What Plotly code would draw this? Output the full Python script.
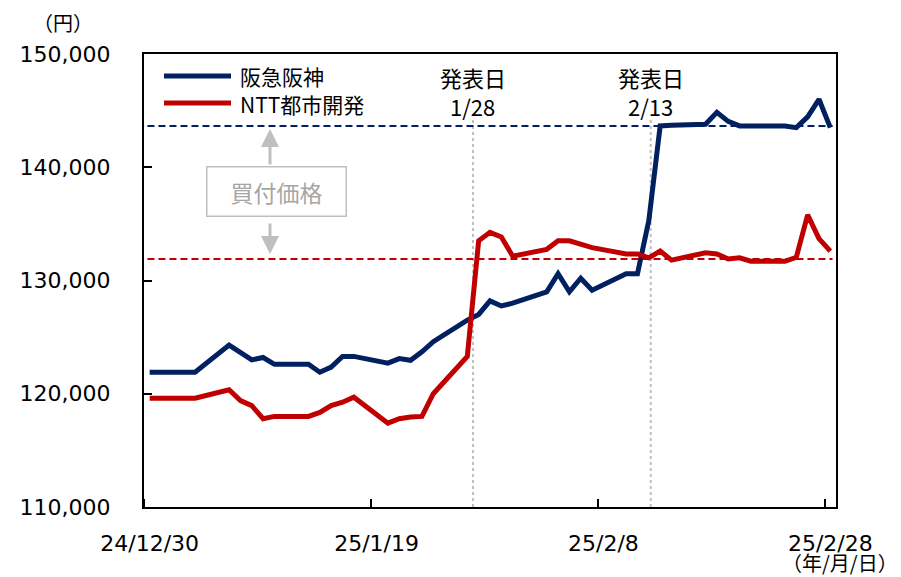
import plotly.graph_objects as go
import pandas as pd

# ---- data ----
dates = [
    "2024-12-30", "2024-12-31", "2025-01-01", "2025-01-02", "2025-01-03",
    "2025-01-06", "2025-01-07", "2025-01-08", "2025-01-09", "2025-01-10",
    "2025-01-13", "2025-01-14", "2025-01-15", "2025-01-16", "2025-01-17",
    "2025-01-20", "2025-01-21", "2025-01-22", "2025-01-23", "2025-01-24",
    "2025-01-27", "2025-01-28", "2025-01-29", "2025-01-30", "2025-01-31",
    "2025-02-03", "2025-02-04", "2025-02-05", "2025-02-06", "2025-02-07",
    "2025-02-10", "2025-02-11", "2025-02-12", "2025-02-13", "2025-02-14",
    "2025-02-17", "2025-02-18", "2025-02-19", "2025-02-20", "2025-02-21",
    "2025-02-24", "2025-02-25", "2025-02-26", "2025-02-27", "2025-02-28",
]
hankyu = [
    121900, 121900, 121900, 121900, 121900,
    124300, 123650, 123000, 123200, 122600,
    122600, 121900, 122350, 123300, 123300,
    122700, 123100, 122950, 123700, 124600,
    126500, 127000, 128200, 127750, 128000,
    129000, 130600, 129000, 130200, 129150,
    130600, 130600, 135300, 143650, 143700,
    143800, 144850, 144050, 143650, 143650,
    143650, 143500, 144450, 146000, 143500,
]
ntt = [
    119600, 119600, 119600, 119600, 119600,
    120350, 119400, 118950, 117800, 118000,
    118000, 118350, 118950, 119250, 119700,
    117400, 117800, 117950, 118000, 120000,
    123300, 133500, 134250, 133850, 132150,
    132750, 133500, 133500, 133200, 132900,
    132350, 132350, 132000, 132600, 131800,
    132450, 132350, 131900, 132000, 131700,
    131700, 132050, 135800, 133700, 132600,
]
series_names = ["阪急阪神", "NTT都市開発"]
tob_hankyu = 143650
tob_ntt = 131900
announce_x = ["2025-01-28", "2025-02-12 16:00"]
announce_title = "発表日"
announce_labels = ["1/28", "2/13"]
tick_dates = ["2024-12-30", "2025-01-19", "2025-02-08", "2025-02-28"]
tick_labels = ["24/12/30", "25/1/19", "25/2/8", "25/2/28"]
y_ticks = [110000, 120000, 130000, 140000, 150000]

# ---- styling ----
BLUE = "#002060"
RED = "#C00000"
GRAY = "#BFBFBF"
FONT = "Verdana, 'DejaVu Sans', 'Noto Sans CJK JP', sans-serif"
JFONT = "'Noto Sans CJK JP', 'DejaVu Sans', sans-serif"

half = pd.Timedelta(hours=12)
x = pd.to_datetime(dates) + half

fig = go.Figure()
fig.add_trace(go.Scatter(x=x, y=hankyu, mode="lines", name=series_names[0],
                         line=dict(color=BLUE, width=5), showlegend=False))
fig.add_trace(go.Scatter(x=x, y=ntt, mode="lines", name=series_names[1],
                         line=dict(color=RED, width=5), showlegend=False))

# plot area in window pixels: left 144, right 836, top 54, bottom 507
# (the page body adds an 8px offset, compensated in the margins)
OFF = 8
L, R, T, B = 144, 836, 54, 507
def px(X):
    return (X - L) / (R - L)
def py(Y):
    return (B - Y) / (B - T)

shapes = []
# tender offer dashed lines
shapes.append(dict(type="line", xref="paper", yref="y", x0=0.005, x1=0.995,
                   y0=tob_hankyu, y1=tob_hankyu, line=dict(color=BLUE, width=2, dash="7px,4px")))
shapes.append(dict(type="line", xref="paper", yref="y", x0=0.005, x1=0.995,
                   y0=tob_ntt, y1=tob_ntt, line=dict(color=RED, width=2, dash="7px,4px")))
# announcement dotted lines
for d in announce_x:
    shapes.append(dict(type="line", xref="x", yref="paper", x0=d, x1=d,
                       y0=0, y1=py(118), line=dict(color=GRAY, width=2, dash="dot"), layer="below"))
# legend lines
shapes.append(dict(type="line", xref="paper", yref="paper", x0=px(164), x1=px(231),
                   y0=py(76), y1=py(76), line=dict(color=BLUE, width=5)))
shapes.append(dict(type="line", xref="paper", yref="paper", x0=px(164), x1=px(231),
                   y0=py(103), y1=py(103), line=dict(color=RED, width=5)))

annotations = []
annotations.append(dict(xref="paper", yref="paper", x=px(238), y=py(76), text=series_names[0],
                        showarrow=False, xanchor="left", yanchor="middle",
                        font=dict(family=JFONT, size=21, color="#000000")))
annotations.append(dict(xref="paper", yref="paper", x=px(238), y=py(104), text=series_names[1],
                        showarrow=False, xanchor="left", yanchor="middle",
                        font=dict(family=JFONT, size=21, color="#000000")))
for d, t in zip(announce_x, announce_labels):
    annotations.append(dict(xref="x", yref="paper", x=d, y=py(77), text=announce_title,
                            showarrow=False, xanchor="center", yanchor="middle",
                            font=dict(family=JFONT, size=22, color="#000000")))
    annotations.append(dict(xref="x", yref="paper", x=d, y=py(106), text=t,
                            showarrow=False, xanchor="center", yanchor="middle",
                            font=dict(family=JFONT, size=22, color="#000000")))
# tender price box and arrows
annotations.append(dict(xref="paper", yref="paper", x=px(276), y=py(191), text="買付価格",
                        showarrow=False, xanchor="center", yanchor="middle",
                        width=136, height=46, bordercolor=GRAY, borderwidth=1.5, bgcolor="white",
                        font=dict(family=JFONT, size=23, color="#A6A6A6")))
annotations.append(dict(xref="paper", yref="y", x=px(270), y=tob_hankyu, ax=0, ay=40,
                        text="", showarrow=True, arrowhead=2, arrowsize=1.2, arrowwidth=3,
                        arrowcolor=GRAY, standoff=3))
annotations.append(dict(xref="paper", yref="y", x=px(270), y=tob_ntt, ax=0, ay=-37,
                        text="", showarrow=True, arrowhead=2, arrowsize=1.2, arrowwidth=3,
                        arrowcolor=GRAY, standoff=5))
# unit labels
annotations.append(dict(xref="paper", yref="paper", x=px(63), y=py(22), text="（円）",
                        showarrow=False, xanchor="center", yanchor="middle",
                        font=dict(family=JFONT, size=20, color="#000000")))
annotations.append(dict(xref="paper", yref="paper", x=px(840), y=py(562), text="（年/月/日）",
                        showarrow=False, xanchor="center", yanchor="middle",
                        font=dict(family=JFONT, size=20, color="#000000")))

fig.update_layout(
    width=901 - OFF, height=577 - OFF,
    margin=dict(l=L - OFF, r=901 - R, t=T - OFF, b=577 - B),
    paper_bgcolor="white", plot_bgcolor="white",
    font=dict(family=FONT, size=22, color="#000000"),
    shapes=shapes, annotations=annotations,
    showlegend=False,
)
fig.update_xaxes(
    type="date", range=["2024-12-30", "2025-03-01"], automargin=False,
    tickmode="array", tickvals=pd.to_datetime(tick_dates) + half, ticktext=tick_labels,
    ticks="", showgrid=False, zeroline=False,
    showline=True, linecolor="#000000", linewidth=2, mirror=True,
    ticklabelstandoff=16,
    tickfont=dict(family=FONT, size=22, color="#000000"),
    minor=dict(tickmode="array", tickvals=pd.to_datetime(tick_dates), ticks="inside",
               ticklen=8, tickcolor="#000000", tickwidth=1.5, showgrid=False),
)
fig.update_yaxes(
    range=[110000, 150000], tickmode="array", tickvals=y_ticks, tickformat=",",
    ticks="inside", ticklen=8, tickcolor="#000000", tickwidth=1.5, automargin=False,
    showgrid=False, zeroline=False,
    showline=True, linecolor="#000000", linewidth=2, mirror=True,
    ticklabelstandoff=27,
    tickfont=dict(family=FONT, size=22, color="#000000"),
)

fig.write_html("out.html")
